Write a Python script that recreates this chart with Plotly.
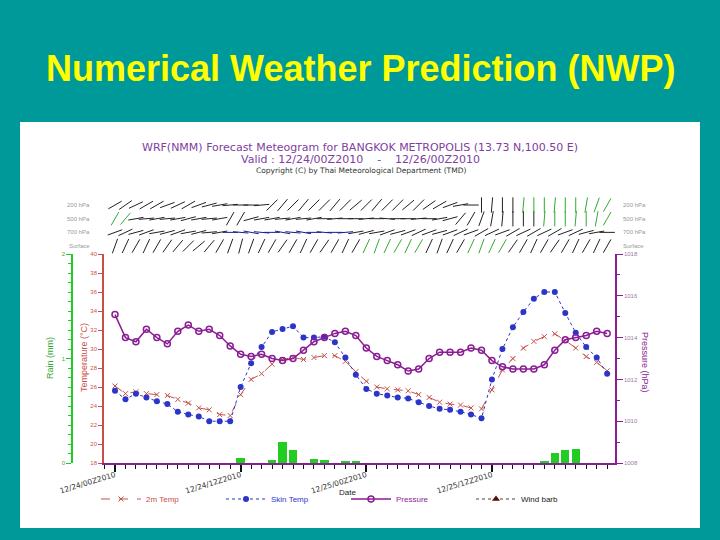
import plotly.graph_objects as go

# ---------------- data ----------------
hours = list(range(48))
tick_hours = [0, 12, 24, 36]
tick_labels = ["12/24/00Z2010", "12/24/12Z2010", "12/25/00Z2010", "12/25/12Z2010"]

t2m = [26.1, 25.3, 25.5, 25.3, 25.2, 25.1, 24.7, 24.3, 23.8, 23.6, 23.1, 23.0,
       25.2, 26.8, 27.4, 28.4, 28.9, 29.1, 28.9, 29.1, 29.3, 29.3, 28.7, 27.6,
       26.6, 26.0, 25.8, 25.7, 25.6, 25.2, 24.9, 24.4, 24.2, 24.1, 23.8, 23.7,
       25.7, 27.8, 29.0, 30.1, 30.8, 31.3, 31.6, 30.9, 30.1, 29.2, 28.6, 27.7]
tskin = [25.6, 24.7, 25.3, 24.9, 24.5, 24.2, 23.4, 23.1, 22.9, 22.4, 22.4, 22.4,
         26.0, 28.5, 30.2, 31.8, 32.1, 32.4, 31.2, 31.2, 31.3, 30.7, 29.1, 27.3,
         25.8, 25.3, 25.1, 24.9, 24.8, 24.4, 24.0, 23.7, 23.6, 23.4, 23.1, 22.7,
         26.8, 30.0, 32.3, 33.9, 35.3, 36.0, 36.0, 33.8, 31.7, 30.2, 29.1, 27.4]
pres = [1015.1, 1014.0, 1013.8, 1014.4, 1014.0, 1013.7, 1014.3, 1014.6, 1014.3, 1014.4, 1014.1, 1013.6,
        1013.2, 1013.1, 1013.2, 1013.0, 1012.9, 1013.0, 1013.4, 1013.8, 1014.0, 1014.2, 1014.3, 1014.1,
        1013.5, 1013.1, 1012.9, 1012.7, 1012.4, 1012.5, 1013.0, 1013.3, 1013.3, 1013.3, 1013.5, 1013.4,
        1012.9, 1012.6, 1012.5, 1012.5, 1012.5, 1012.7, 1013.4, 1013.9, 1014.0, 1014.1, 1014.3, 1014.2]
rain = [0, 0, 0, 0, 0, 0, 0, 0, 0, 0, 0, 0,
        0.05, 0, 0, 0.03, 0.20, 0.12, 0, 0.04, 0.03, 0, 0.01, 0.01,
        0, 0, 0, 0, 0, 0, 0, 0, 0, 0, 0, 0,
        0, 0, 0, 0, 0, 0.01, 0.10, 0.12, 0.13, 0, 0, 0]

levels = ["Surface", "700 hPa", "500 hPa", "200 hPa"]
wind_200 = [60, 55, 65, 60, 60, 70, 65, 60, 70, 75, 80, 85, 90, 90, 85,
            45, 40, 45, 40, 45, 45, 40, 45, 50, 45, 40, 45, 45, 50, 45, 55, 60, 70, 80, 90,
            0, 5, 0, 0, 5, 0, 0, 5, 0, 0, 10, 20, 30]
wind_500 = [30, 40, 80, 85, 80, 85, 80, 75, 80, 85, 80, 30, 30,
            75, 80, 80, 85, 80, 85, 80, 90, 85, 90, 90, 85, 90, 95, 90, 90, 85, 90, 80, 75,
            40, 30, 20, 10, 5, 0, 0, 0, 5, 0, 0, 5, 0, 10, 30]
wind_700 = [70, 65, 75, 70, 80, 75, 70, 80, 75, 85, 80, 90, 95, 100, 95, 90, 100, 95, 100, 90,
            95, 90, 85, 80, 75, 80, 70, 75, 70, 65, 70, 75, 70, 65, 70, 60, 65, 70, 60, 65,
            60, 65, 60, 70, 65, 75, 80, 90]
wind_sfc = [20, 25, 30, 25, 30, 35, 40, 45, 50, 40, 30, 20, 15, 20, 25, 30, 35, 30, 25, 30,
            35, 30, 25, 30, 25, 20, 25, 30, 25, 30, 25, 20, 25, 30, 25, 20, 25, 30, 35, 30,
            25, 30, 35, 30, 25, 30, 25, 30]

# ---------------- styling helpers ----------------
TEAL = "#009999"
RED = "#C8504A"
BLUE = "#2B35C8"
PURPLE = "#8A1C94"
GREEN = "#22CC22"
FONT = "Liberation Sans, Arial, sans-serif"
WIDE = "DejaVu Sans, Verdana, sans-serif"

W, H = 720, 540
ML, MR, MT, MB = 72, 105, 190, 77
PW, PH = W - ML - MR, H - MT - MB


def px(x):
    return (x - ML) / PW


def py(y):
    return (H - MB - y) / PH


def row_colors(n, spans):
    cols = ["#222222"] * n
    for a, b, c in spans:
        for i in range(a, b + 1):
            cols[i] = c
    return cols


fig = go.Figure()

# rain bars
fig.add_trace(go.Bar(x=hours, y=rain, yaxis="y3", marker=dict(color=GREEN, line=dict(width=0)),
                     width=0.8, showlegend=False))

# wind barbs rows
wind_rows = [wind_sfc, wind_700, wind_500, wind_200]
row_spans = [
    [(24, 29, "#33AA33"), (34, 37, "#33AA33")],
    [(11, 22, "#1A1A90")],
    [(0, 1, "#33AA33"), (41, 47, "#33AA33")],
    [(39, 47, "#33AA33")],
]
for k, (lev, ang) in enumerate(zip(levels, wind_rows)):
    fig.add_trace(go.Scatter(
        x=hours, y=[k] * len(hours), xaxis="x2", yaxis="y4", mode="markers",
        marker=dict(symbol="line-ns", size=11, angle=ang,
                    line=dict(width=1, color=row_colors(len(hours), row_spans[k]))),
        cliponaxis=False, showlegend=False, hoverinfo="skip"))

fig.add_trace(go.Scatter(
    x=hours, y=t2m, mode="lines+markers",
    name='<span style="color:%s">2m Temp</span>' % RED,
    line=dict(color=RED, width=1, dash="dash"),
    marker=dict(symbol="x-thin", size=5, line=dict(width=1, color=RED), color=RED)))
fig.add_trace(go.Scatter(
    x=hours, y=tskin, mode="lines+markers",
    name='<span style="color:%s">Skin Temp</span>' % BLUE,
    line=dict(color=BLUE, width=1, dash="dot"),
    marker=dict(symbol="circle", size=6, color=BLUE)))
fig.add_trace(go.Scatter(
    x=hours, y=pres, yaxis="y2", mode="lines+markers",
    name='<span style="color:%s">Pressure</span>' % PURPLE,
    line=dict(color=PURPLE, width=1.5),
    marker=dict(symbol="circle-open", size=6, line=dict(width=1.5, color=PURPLE))))
fig.add_trace(go.Scatter(
    x=[None], y=[None], mode="lines+markers", name="Wind barb",
    line=dict(color="#444444", width=1, dash="dot"),
    marker=dict(symbol="triangle-up", size=7, color="#5A0A0A")))

x_dom = [px(104), 1.0]
fig.update_layout(
    width=W, height=H, autosize=False,
    margin=dict(l=ML, r=MR, t=MT, b=MB, pad=0),
    paper_bgcolor=TEAL, plot_bgcolor="rgba(0,0,0,0)",
    font=dict(family=FONT, size=7, color="#333333"),
    bargap=0,
    xaxis=dict(domain=x_dom, range=[-1.05, 47.75], anchor="y",
               tickvals=tick_hours, ticktext=tick_labels, tickangle=-17,
               ticks="outside", ticklen=7, tickwidth=2, tickcolor="#111111",
               ticklabelstandoff=-4,
               tickfont=dict(size=7.5, color="#333333", family=WIDE),
               minor=dict(dtick=1, tick0=0, ticks="outside", ticklen=4, tickwidth=1, tickcolor="#111111"),
               showline=True, linecolor=PURPLE, linewidth=1.5, showgrid=False, zeroline=False),
    xaxis2=dict(domain=x_dom, matches="x", anchor="y4", visible=False),
    yaxis=dict(domain=[0, py(254)], range=[18, 40], dtick=2, anchor="x", side="left",
               ticks="outside", ticklen=4, tickcolor=RED, tickfont=dict(size=6, color=RED),
               showline=True, linecolor=RED, linewidth=1.5, showgrid=False, zeroline=False),
    yaxis2=dict(domain=[0, py(254)], range=[1008, 1018], dtick=2, overlaying="y", side="right",
                anchor="x", ticks="outside", ticklen=6, tickcolor=PURPLE,
                tickfont=dict(size=6, color="#9A7AA0"),
                minor=dict(dtick=1, ticks="outside", ticklen=3, tickcolor=PURPLE),
                showline=True, linecolor=PURPLE, linewidth=1.5, showgrid=False, zeroline=False),
    yaxis3=dict(range=[0, 2], tickvals=[0, 1, 2], overlaying="y", anchor="free", position=0,
                side="left", ticks="outside", ticklen=5, tickcolor=GREEN,
                tickfont=dict(size=6, color="#33AA33"),
                minor=dict(dtick=2 / 22, ticks="outside", ticklen=3, tickcolor=GREEN),
                showline=True, linecolor=GREEN, linewidth=1.5, showgrid=False, zeroline=False),
    yaxis4=dict(domain=[py(250), 1.0], range=[-0.29, 4.1], anchor="x2", visible=False),
    legend=dict(orientation="h", x=px(96), xanchor="left", y=py(499), yanchor="middle",
                entrywidth=70, entrywidthmode="pixels", itemwidth=40,
                font=dict(size=8, color="#222222"), bgcolor="rgba(0,0,0,0)",
                traceorder="normal"),
)

# white panel behind the meteogram
fig.add_shape(type="rect", xref="paper", yref="paper", layer="below",
              x0=px(20), x1=px(700), y0=py(528), y1=py(122),
              fillcolor="white", line=dict(width=0))

ann = []
ann.append(dict(text="<b>Numerical Weather Prediction (NWP)</b>", x=px(360), y=py(68),
                font=dict(size=36, color="#FFFF00", family=FONT)))
ann.append(dict(text="WRF(NMM) Forecast Meteogram for BANGKOK METROPOLIS (13.73 N,100.50 E)",
                x=px(360), y=py(147.5), font=dict(size=11, color="#8040A0", family=WIDE)))
ann.append(dict(text="Valid : 12/24/00Z2010    -    12/26/00Z2010",
                x=px(360), y=py(159), font=dict(size=11, color="#8040A0", family=WIDE)))
ann.append(dict(text="Copyright (C) by Thai Meteorological Department (TMD)",
                x=px(361), y=py(170.5), font=dict(size=7.5, color="#333333", family=WIDE)))
ann.append(dict(text="Temperature (°C)", x=px(84), y=py(358), textangle=-90,
                font=dict(size=9, color=RED)))
ann.append(dict(text="Rain (mm)", x=px(50), y=py(358), textangle=-90,
                font=dict(size=9, color="#33AA33")))
ann.append(dict(text="Pressure (hPa)", x=px(645), y=py(362), textangle=90,
                font=dict(size=9, color=PURPLE)))
ann.append(dict(text="Date", x=px(347), y=py(492), font=dict(size=8, color="#222222")))
for k, lev in enumerate(levels):
    ann.append(dict(text=lev, xref="paper", yref="y4", x=px(92), y=k, xanchor="right",
                    font=dict(size=6, color="#999999")))
    ann.append(dict(text=lev, xref="paper", yref="y4", x=px(621), y=k, xanchor="left",
                    font=dict(size=6, color="#999999")))
for a in ann:
    a.setdefault("xref", "paper")
    a.setdefault("yref", "paper")
    a.setdefault("xanchor", "center")
    a.setdefault("yanchor", "middle")
    a.setdefault("showarrow", False)
    fig.add_annotation(**a)

fig.write_html("out.html", config={"displayModeBar": False},
               post_script="document.body.style.margin='0';document.body.style.overflow='hidden';")
